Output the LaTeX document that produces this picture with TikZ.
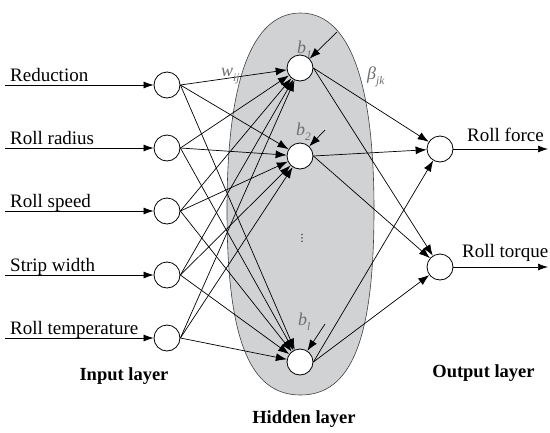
\documentclass[tikz,border=0pt]{standalone}
\usepackage{fontspec}
\setmainfont{Liberation Serif}
\newfontfamily\symfont{DejaVu Sans}
\usetikzlibrary{arrows.meta}
\definecolor{symgray}{RGB}{110,110,110}
\definecolor{layerfill}{RGB}{209,210,212}
\newcommand\lsub[1]{\raisebox{-0.3em}{\fontsize{11.5}{12}\selectfont\itshape #1}}
\begin{document}
\begin{tikzpicture}[x=1pt,y=-1pt,
  neuron/.style={circle, draw, line width=0.8pt, fill=white, minimum size=26pt, inner sep=0pt},
  conn/.style={line width=0.7pt, -{Latex[length=10pt,width=7pt]}},
  wconn/.style={line width=0.7pt, -{Latex[length=11pt,width=8pt]}},
  lbl/.style={font=\fontsize{19}{22}\selectfont, inner sep=0pt, anchor=base west},
  layer/.style={font=\fontsize{18.5}{22}\selectfont\bfseries, inner sep=0pt, anchor=base},
  sym/.style={text=symgray, inner sep=0pt, anchor=base west, font=\fontsize{18}{20}\selectfont\itshape}]
\useasboundingbox (0,0) rectangle (550,432);

% hidden layer region
\draw[fill=layerfill, draw=black!75, line width=0.6pt]
  (300.5,13) .. controls (343,13) and (374,65) .. (374,210)
  .. controls (374,340) and (351,395) .. (300.5,395)
  .. controls (250,395) and (227,340) .. (227,210)
  .. controls (227,65) and (258,13) .. (300.5,13) -- cycle;

% neurons
\foreach \i/\y in {1/85, 2/148, 3/211, 4/275, 5/338}
  \node[neuron] (in\i) at (167,\y) {};
\node[neuron] (h1) at (300,68) {};
\node[neuron] (h2) at (300,156) {};
\node[neuron] (h3) at (300,362) {};
\node[neuron] (o1) at (440,149) {};
\node[neuron] (o2) at (440,267) {};

% inputs
\foreach \i/\y/\t in {1/85/Reduction, 2/148/Roll radius, 3/211/Roll speed, 4/275/Strip width, 5/338/Roll temperature} {
  \coordinate (s\i) at (5,\y);
  \draw[conn] (s\i) -- (in\i);
  \node[lbl] (t\i) at (10,\y-4) {\t};
}

% outputs
\coordinate (e1) at (548,149);
\coordinate (e2) at (548,267);
\draw[conn] (o1) -- (e1);
\draw[conn] (o2) -- (e2);
\node[lbl] (f1) at (467,141) {Roll force};
\node[lbl] (f2) at (462,257) {Roll torque};

% weights
\foreach \i in {1,...,5}
  \foreach \j in {1,2,3}
    \draw[wconn] (in\i.east) -- (h\j);
\foreach \j in {1,2,3}
  \foreach \k in {1,2}
    \draw[wconn] (h\j.east) -- (o\k);

% biases
\coordinate (bs1) at (337,32);
\coordinate (bs2) at (325,130);
\coordinate (bs3) at (325,324);
\draw[wconn] (bs1) -- (h1);
\draw[wconn] (bs2) -- (h2);
\draw[wconn] (bs3) -- (h3);
\node[sym] (bl1) at (297,53) {b\lsub{1}};
\node[sym] (bl2) at (296,135) {b\lsub{2}};
\node[sym] (bl3) at (298,325) {b\lsub{l}};
\node[sym] (wl) at (221,76) {w\lsub{ij}};
\node[sym] (bt) at (367,79) {β\lsub{jk}};

\node[inner sep=0pt, anchor=center, font=\symfont\fontsize{10}{10}\selectfont] (dots) at (302,238) {⋮};

% layer titles
\node[layer] (li) at (124,380) {Input layer};
\node[layer] (lh) at (304,423) {Hidden layer};
\node[layer] (lo) at (483.5,377) {Output layer};
\end{tikzpicture}
\end{document}
